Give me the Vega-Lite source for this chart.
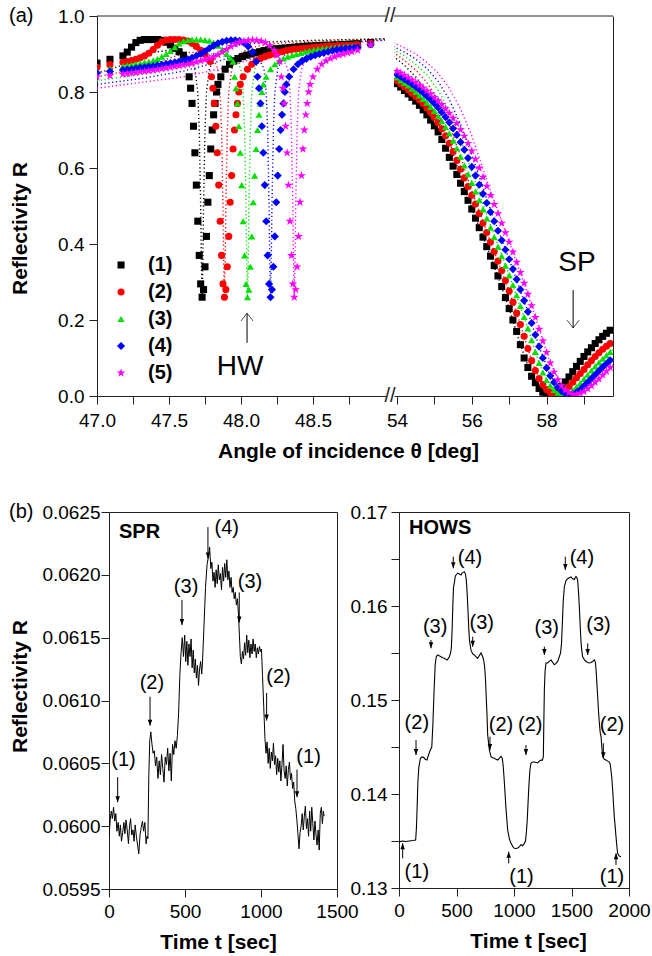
{
"$schema":"https://vega.github.io/schema/vega-lite/v6.json",
"padding":{"left":8,"top":6,"right":4,"bottom":4},
"config":{"font":"Liberation Sans","view":{"stroke":null},
"axis":{"domainColor":"#222","tickColor":"#222","labelColor":"#000","titleColor":"#000","labelFontSize":19,"titleFontSize":21,"titleFontWeight":"bold","grid":false,"tickSize":8,"labelFlush":false,"labelOverlap":false}},
"datasets":{
"lg":[{"s":1,"k":"(1)"},{"s":2,"k":"(2)"},{"s":3,"k":"(3)"},{"s":4,"k":"(4)"},{"s":5,"k":"(5)"}],
"aL":[
{"s":1,"t":47.0,"r":0.876},{"s":1,"t":47.09,"r":0.886},{"s":1,"t":47.18,"r":0.895},{"s":1,"t":47.21,"r":0.905},{"s":1,"t":47.24,"r":0.918},{"s":1,"t":47.27,"r":0.93},{"s":1,"t":47.3,"r":0.936},{"s":1,"t":47.33,"r":0.938},{"s":1,"t":47.36,"r":0.938},{"s":1,"t":47.39,"r":0.938},{"s":1,"t":47.42,"r":0.938},{"s":1,"t":47.45,"r":0.936},{"s":1,"t":47.48,"r":0.931},{"s":1,"t":47.51,"r":0.924},{"s":1,"t":47.54,"r":0.915},{"s":1,"t":47.57,"r":0.906},{"s":1,"t":47.6,"r":0.897},{"s":1,"t":47.63,"r":0.88},{"s":1,"t":47.64,"r":0.84},{"s":1,"t":47.65,"r":0.81},{"s":1,"t":47.66,"r":0.77},{"s":1,"t":47.67,"r":0.71},{"s":1,"t":47.68,"r":0.64},{"s":1,"t":47.69,"r":0.555},{"s":1,"t":47.7,"r":0.46},{"s":1,"t":47.71,"r":0.37},{"s":1,"t":47.72,"r":0.295},{"s":1,"t":47.73,"r":0.26},{"s":1,"t":47.74,"r":0.28},{"s":1,"t":47.75,"r":0.34},{"s":1,"t":47.76,"r":0.42},{"s":1,"t":47.77,"r":0.51},{"s":1,"t":47.78,"r":0.58},{"s":1,"t":47.79,"r":0.65},{"s":1,"t":47.8,"r":0.7},{"s":1,"t":47.81,"r":0.74},{"s":1,"t":47.82,"r":0.77},{"s":1,"t":47.83,"r":0.8},{"s":1,"t":47.84,"r":0.82},{"s":1,"t":47.86,"r":0.84},{"s":1,"t":47.89,"r":0.86},{"s":1,"t":47.92,"r":0.873},{"s":1,"t":47.95,"r":0.882},{"s":1,"t":47.98,"r":0.888},{"s":1,"t":48.01,"r":0.893},{"s":1,"t":48.04,"r":0.897},{"s":1,"t":48.07,"r":0.9},{"s":1,"t":48.1,"r":0.903},{"s":1,"t":48.13,"r":0.906},{"s":1,"t":48.16,"r":0.909},{"s":1,"t":48.19,"r":0.911},{"s":1,"t":48.22,"r":0.913},{"s":1,"t":48.25,"r":0.914},{"s":1,"t":48.28,"r":0.915},{"s":1,"t":48.31,"r":0.916},{"s":1,"t":48.34,"r":0.917},{"s":1,"t":48.37,"r":0.918},{"s":1,"t":48.4,"r":0.919},{"s":1,"t":48.43,"r":0.92},{"s":1,"t":48.46,"r":0.921},{"s":1,"t":48.49,"r":0.921},{"s":1,"t":48.52,"r":0.922},{"s":1,"t":48.55,"r":0.922},{"s":1,"t":48.58,"r":0.923},{"s":1,"t":48.61,"r":0.923},{"s":1,"t":48.64,"r":0.924},{"s":1,"t":48.67,"r":0.924},{"s":1,"t":48.7,"r":0.925},{"s":1,"t":48.73,"r":0.925},{"s":1,"t":48.76,"r":0.926},{"s":1,"t":48.79,"r":0.926},{"s":1,"t":48.81,"r":0.927},{"s":1,"t":48.9,"r":0.93},
{"s":2,"t":47.0,"r":0.865},{"s":2,"t":47.09,"r":0.872},{"s":2,"t":47.18,"r":0.878},{"s":2,"t":47.21,"r":0.88},{"s":2,"t":47.24,"r":0.883},{"s":2,"t":47.27,"r":0.886},{"s":2,"t":47.3,"r":0.89},{"s":2,"t":47.33,"r":0.895},{"s":2,"t":47.36,"r":0.902},{"s":2,"t":47.39,"r":0.912},{"s":2,"t":47.42,"r":0.923},{"s":2,"t":47.45,"r":0.932},{"s":2,"t":47.48,"r":0.937},{"s":2,"t":47.51,"r":0.938},{"s":2,"t":47.54,"r":0.938},{"s":2,"t":47.57,"r":0.938},{"s":2,"t":47.6,"r":0.937},{"s":2,"t":47.63,"r":0.934},{"s":2,"t":47.66,"r":0.928},{"s":2,"t":47.69,"r":0.92},{"s":2,"t":47.72,"r":0.91},{"s":2,"t":47.75,"r":0.899},{"s":2,"t":47.785,"r":0.88},{"s":2,"t":47.795,"r":0.84},{"s":2,"t":47.805,"r":0.81},{"s":2,"t":47.815,"r":0.77},{"s":2,"t":47.825,"r":0.71},{"s":2,"t":47.835,"r":0.64},{"s":2,"t":47.845,"r":0.555},{"s":2,"t":47.855,"r":0.46},{"s":2,"t":47.865,"r":0.37},{"s":2,"t":47.875,"r":0.295},{"s":2,"t":47.885,"r":0.26},{"s":2,"t":47.895,"r":0.28},{"s":2,"t":47.905,"r":0.34},{"s":2,"t":47.915,"r":0.42},{"s":2,"t":47.925,"r":0.51},{"s":2,"t":47.935,"r":0.58},{"s":2,"t":47.945,"r":0.65},{"s":2,"t":47.955,"r":0.7},{"s":2,"t":47.965,"r":0.74},{"s":2,"t":47.975,"r":0.77},{"s":2,"t":47.985,"r":0.8},{"s":2,"t":47.995,"r":0.82},{"s":2,"t":48.015,"r":0.84},{"s":2,"t":48.045,"r":0.86},{"s":2,"t":48.075,"r":0.873},{"s":2,"t":48.105,"r":0.882},{"s":2,"t":48.135,"r":0.888},{"s":2,"t":48.165,"r":0.893},{"s":2,"t":48.195,"r":0.897},{"s":2,"t":48.225,"r":0.9},{"s":2,"t":48.255,"r":0.903},{"s":2,"t":48.285,"r":0.906},{"s":2,"t":48.315,"r":0.909},{"s":2,"t":48.345,"r":0.911},{"s":2,"t":48.375,"r":0.913},{"s":2,"t":48.405,"r":0.914},{"s":2,"t":48.435,"r":0.915},{"s":2,"t":48.465,"r":0.916},{"s":2,"t":48.495,"r":0.917},{"s":2,"t":48.525,"r":0.918},{"s":2,"t":48.555,"r":0.919},{"s":2,"t":48.585,"r":0.92},{"s":2,"t":48.615,"r":0.921},{"s":2,"t":48.645,"r":0.921},{"s":2,"t":48.675,"r":0.922},{"s":2,"t":48.705,"r":0.922},{"s":2,"t":48.735,"r":0.923},{"s":2,"t":48.765,"r":0.923},{"s":2,"t":48.795,"r":0.924},{"s":2,"t":48.81,"r":0.924},{"s":2,"t":48.9,"r":0.928},
{"s":3,"t":47.0,"r":0.855},{"s":3,"t":47.09,"r":0.862},{"s":3,"t":47.18,"r":0.868},{"s":3,"t":47.21,"r":0.87},{"s":3,"t":47.24,"r":0.872},{"s":3,"t":47.27,"r":0.874},{"s":3,"t":47.3,"r":0.876},{"s":3,"t":47.33,"r":0.878},{"s":3,"t":47.36,"r":0.88},{"s":3,"t":47.39,"r":0.883},{"s":3,"t":47.42,"r":0.887},{"s":3,"t":47.45,"r":0.893},{"s":3,"t":47.48,"r":0.9},{"s":3,"t":47.51,"r":0.908},{"s":3,"t":47.54,"r":0.918},{"s":3,"t":47.57,"r":0.928},{"s":3,"t":47.6,"r":0.934},{"s":3,"t":47.63,"r":0.937},{"s":3,"t":47.66,"r":0.938},{"s":3,"t":47.69,"r":0.938},{"s":3,"t":47.72,"r":0.938},{"s":3,"t":47.75,"r":0.937},{"s":3,"t":47.78,"r":0.935},{"s":3,"t":47.81,"r":0.93},{"s":3,"t":47.84,"r":0.922},{"s":3,"t":47.87,"r":0.912},{"s":3,"t":47.9,"r":0.9},{"s":3,"t":47.925,"r":0.89},{"s":3,"t":47.945,"r":0.88},{"s":3,"t":47.955,"r":0.84},{"s":3,"t":47.965,"r":0.81},{"s":3,"t":47.975,"r":0.77},{"s":3,"t":47.985,"r":0.71},{"s":3,"t":47.995,"r":0.64},{"s":3,"t":48.005,"r":0.555},{"s":3,"t":48.015,"r":0.46},{"s":3,"t":48.025,"r":0.37},{"s":3,"t":48.035,"r":0.295},{"s":3,"t":48.045,"r":0.26},{"s":3,"t":48.055,"r":0.28},{"s":3,"t":48.065,"r":0.34},{"s":3,"t":48.075,"r":0.42},{"s":3,"t":48.085,"r":0.51},{"s":3,"t":48.095,"r":0.58},{"s":3,"t":48.105,"r":0.65},{"s":3,"t":48.115,"r":0.7},{"s":3,"t":48.125,"r":0.74},{"s":3,"t":48.135,"r":0.77},{"s":3,"t":48.145,"r":0.8},{"s":3,"t":48.155,"r":0.82},{"s":3,"t":48.175,"r":0.84},{"s":3,"t":48.205,"r":0.86},{"s":3,"t":48.235,"r":0.873},{"s":3,"t":48.265,"r":0.882},{"s":3,"t":48.295,"r":0.888},{"s":3,"t":48.325,"r":0.893},{"s":3,"t":48.355,"r":0.897},{"s":3,"t":48.385,"r":0.9},{"s":3,"t":48.415,"r":0.903},{"s":3,"t":48.445,"r":0.906},{"s":3,"t":48.475,"r":0.909},{"s":3,"t":48.505,"r":0.911},{"s":3,"t":48.535,"r":0.913},{"s":3,"t":48.565,"r":0.914},{"s":3,"t":48.595,"r":0.915},{"s":3,"t":48.625,"r":0.916},{"s":3,"t":48.655,"r":0.917},{"s":3,"t":48.685,"r":0.918},{"s":3,"t":48.715,"r":0.919},{"s":3,"t":48.745,"r":0.92},{"s":3,"t":48.775,"r":0.92},{"s":3,"t":48.81,"r":0.921},{"s":3,"t":48.9,"r":0.926},
{"s":4,"t":47.0,"r":0.85},{"s":4,"t":47.09,"r":0.854},{"s":4,"t":47.18,"r":0.858},{"s":4,"t":47.21,"r":0.859},{"s":4,"t":47.24,"r":0.86},{"s":4,"t":47.27,"r":0.862},{"s":4,"t":47.3,"r":0.864},{"s":4,"t":47.33,"r":0.865},{"s":4,"t":47.36,"r":0.867},{"s":4,"t":47.39,"r":0.868},{"s":4,"t":47.42,"r":0.87},{"s":4,"t":47.45,"r":0.872},{"s":4,"t":47.48,"r":0.874},{"s":4,"t":47.51,"r":0.876},{"s":4,"t":47.54,"r":0.878},{"s":4,"t":47.57,"r":0.88},{"s":4,"t":47.6,"r":0.883},{"s":4,"t":47.63,"r":0.886},{"s":4,"t":47.66,"r":0.89},{"s":4,"t":47.69,"r":0.895},{"s":4,"t":47.72,"r":0.9},{"s":4,"t":47.75,"r":0.907},{"s":4,"t":47.78,"r":0.915},{"s":4,"t":47.81,"r":0.922},{"s":4,"t":47.84,"r":0.928},{"s":4,"t":47.87,"r":0.932},{"s":4,"t":47.9,"r":0.935},{"s":4,"t":47.93,"r":0.936},{"s":4,"t":47.96,"r":0.936},{"s":4,"t":47.99,"r":0.935},{"s":4,"t":48.02,"r":0.93},{"s":4,"t":48.05,"r":0.92},{"s":4,"t":48.08,"r":0.905},{"s":4,"t":48.105,"r":0.88},{"s":4,"t":48.115,"r":0.84},{"s":4,"t":48.125,"r":0.81},{"s":4,"t":48.135,"r":0.77},{"s":4,"t":48.145,"r":0.71},{"s":4,"t":48.155,"r":0.64},{"s":4,"t":48.165,"r":0.555},{"s":4,"t":48.175,"r":0.46},{"s":4,"t":48.185,"r":0.37},{"s":4,"t":48.195,"r":0.295},{"s":4,"t":48.205,"r":0.26},{"s":4,"t":48.215,"r":0.28},{"s":4,"t":48.225,"r":0.34},{"s":4,"t":48.235,"r":0.42},{"s":4,"t":48.245,"r":0.51},{"s":4,"t":48.255,"r":0.58},{"s":4,"t":48.265,"r":0.65},{"s":4,"t":48.275,"r":0.7},{"s":4,"t":48.285,"r":0.74},{"s":4,"t":48.295,"r":0.77},{"s":4,"t":48.305,"r":0.8},{"s":4,"t":48.315,"r":0.82},{"s":4,"t":48.335,"r":0.84},{"s":4,"t":48.365,"r":0.86},{"s":4,"t":48.395,"r":0.873},{"s":4,"t":48.425,"r":0.882},{"s":4,"t":48.455,"r":0.888},{"s":4,"t":48.485,"r":0.893},{"s":4,"t":48.515,"r":0.897},{"s":4,"t":48.545,"r":0.9},{"s":4,"t":48.575,"r":0.903},{"s":4,"t":48.605,"r":0.906},{"s":4,"t":48.635,"r":0.909},{"s":4,"t":48.665,"r":0.911},{"s":4,"t":48.695,"r":0.913},{"s":4,"t":48.725,"r":0.914},{"s":4,"t":48.755,"r":0.915},{"s":4,"t":48.785,"r":0.916},{"s":4,"t":48.81,"r":0.917},{"s":4,"t":48.9,"r":0.925},
{"s":5,"t":47.0,"r":0.84},{"s":5,"t":47.09,"r":0.843},{"s":5,"t":47.18,"r":0.847},{"s":5,"t":47.21,"r":0.848},{"s":5,"t":47.24,"r":0.85},{"s":5,"t":47.27,"r":0.851},{"s":5,"t":47.3,"r":0.853},{"s":5,"t":47.33,"r":0.854},{"s":5,"t":47.36,"r":0.856},{"s":5,"t":47.39,"r":0.857},{"s":5,"t":47.42,"r":0.859},{"s":5,"t":47.45,"r":0.861},{"s":5,"t":47.48,"r":0.863},{"s":5,"t":47.51,"r":0.865},{"s":5,"t":47.54,"r":0.867},{"s":5,"t":47.57,"r":0.869},{"s":5,"t":47.6,"r":0.871},{"s":5,"t":47.63,"r":0.873},{"s":5,"t":47.66,"r":0.876},{"s":5,"t":47.69,"r":0.879},{"s":5,"t":47.72,"r":0.882},{"s":5,"t":47.75,"r":0.885},{"s":5,"t":47.78,"r":0.889},{"s":5,"t":47.81,"r":0.893},{"s":5,"t":47.84,"r":0.898},{"s":5,"t":47.87,"r":0.905},{"s":5,"t":47.9,"r":0.912},{"s":5,"t":47.93,"r":0.92},{"s":5,"t":47.96,"r":0.926},{"s":5,"t":47.99,"r":0.931},{"s":5,"t":48.02,"r":0.934},{"s":5,"t":48.05,"r":0.936},{"s":5,"t":48.08,"r":0.937},{"s":5,"t":48.11,"r":0.936},{"s":5,"t":48.14,"r":0.934},{"s":5,"t":48.17,"r":0.93},{"s":5,"t":48.2,"r":0.922},{"s":5,"t":48.23,"r":0.91},{"s":5,"t":48.25,"r":0.897},{"s":5,"t":48.27,"r":0.88},{"s":5,"t":48.28,"r":0.84},{"s":5,"t":48.29,"r":0.81},{"s":5,"t":48.3,"r":0.77},{"s":5,"t":48.31,"r":0.71},{"s":5,"t":48.32,"r":0.64},{"s":5,"t":48.33,"r":0.555},{"s":5,"t":48.34,"r":0.46},{"s":5,"t":48.35,"r":0.37},{"s":5,"t":48.36,"r":0.295},{"s":5,"t":48.37,"r":0.26},{"s":5,"t":48.38,"r":0.28},{"s":5,"t":48.39,"r":0.34},{"s":5,"t":48.4,"r":0.42},{"s":5,"t":48.41,"r":0.51},{"s":5,"t":48.42,"r":0.58},{"s":5,"t":48.43,"r":0.65},{"s":5,"t":48.44,"r":0.7},{"s":5,"t":48.45,"r":0.74},{"s":5,"t":48.46,"r":0.77},{"s":5,"t":48.47,"r":0.8},{"s":5,"t":48.48,"r":0.82},{"s":5,"t":48.5,"r":0.84},{"s":5,"t":48.53,"r":0.86},{"s":5,"t":48.56,"r":0.873},{"s":5,"t":48.59,"r":0.882},{"s":5,"t":48.62,"r":0.888},{"s":5,"t":48.65,"r":0.893},{"s":5,"t":48.68,"r":0.897},{"s":5,"t":48.71,"r":0.9},{"s":5,"t":48.74,"r":0.903},{"s":5,"t":48.77,"r":0.906},{"s":5,"t":48.81,"r":0.91},{"s":5,"t":48.9,"r":0.924}
],
"fL":[
{"g":1,"t":47.0,"r":0.85},{"g":1,"t":47.1,"r":0.86},{"g":1,"t":47.2,"r":0.875},{"g":1,"t":47.3,"r":0.893},{"g":1,"t":47.4,"r":0.905},{"g":1,"t":47.5,"r":0.91},{"g":1,"t":47.58,"r":0.905},{"g":1,"t":47.64,"r":0.89},{"g":1,"t":47.68,"r":0.86},{"g":1,"t":47.7,"r":0.8},{"g":1,"t":47.71,"r":0.7},{"g":1,"t":47.72,"r":0.5},{"g":1,"t":47.725,"r":0.35},{"g":1,"t":47.73,"r":0.26},{"g":1,"t":47.735,"r":0.35},{"g":1,"t":47.74,"r":0.5},{"g":1,"t":47.75,"r":0.7},{"g":1,"t":47.76,"r":0.8},{"g":1,"t":47.78,"r":0.86},{"g":1,"t":47.82,"r":0.895},{"g":1,"t":47.9,"r":0.915},{"g":1,"t":48.0,"r":0.925},{"g":1,"t":48.2,"r":0.932},{"g":1,"t":48.5,"r":0.936},{"g":1,"t":49.0,"r":0.94},
{"g":2,"t":47.0,"r":0.84},{"g":2,"t":47.2,"r":0.855},{"g":2,"t":47.4,"r":0.875},{"g":2,"t":47.55,"r":0.895},{"g":2,"t":47.65,"r":0.905},{"g":2,"t":47.75,"r":0.9},{"g":2,"t":47.81,"r":0.885},{"g":2,"t":47.84,"r":0.86},{"g":2,"t":47.855,"r":0.8},{"g":2,"t":47.865,"r":0.7},{"g":2,"t":47.875,"r":0.5},{"g":2,"t":47.88,"r":0.35},{"g":2,"t":47.885,"r":0.26},{"g":2,"t":47.89,"r":0.35},{"g":2,"t":47.895,"r":0.5},{"g":2,"t":47.905,"r":0.7},{"g":2,"t":47.915,"r":0.8},{"g":2,"t":47.935,"r":0.86},{"g":2,"t":47.975,"r":0.895},{"g":2,"t":48.05,"r":0.915},{"g":2,"t":48.2,"r":0.927},{"g":2,"t":48.5,"r":0.934},{"g":2,"t":49.0,"r":0.94},
{"g":3,"t":47.0,"r":0.83},{"g":3,"t":47.2,"r":0.84},{"g":3,"t":47.4,"r":0.855},{"g":3,"t":47.6,"r":0.88},{"g":3,"t":47.75,"r":0.9},{"g":3,"t":47.9,"r":0.9},{"g":3,"t":47.97,"r":0.885},{"g":3,"t":48.0,"r":0.86},{"g":3,"t":48.015,"r":0.8},{"g":3,"t":48.025,"r":0.7},{"g":3,"t":48.035,"r":0.5},{"g":3,"t":48.04,"r":0.35},{"g":3,"t":48.045,"r":0.26},{"g":3,"t":48.05,"r":0.35},{"g":3,"t":48.055,"r":0.5},{"g":3,"t":48.065,"r":0.7},{"g":3,"t":48.075,"r":0.8},{"g":3,"t":48.095,"r":0.86},{"g":3,"t":48.135,"r":0.895},{"g":3,"t":48.21,"r":0.915},{"g":3,"t":48.4,"r":0.928},{"g":3,"t":48.7,"r":0.935},{"g":3,"t":49.0,"r":0.938},
{"g":4,"t":47.0,"r":0.82},{"g":4,"t":47.3,"r":0.835},{"g":4,"t":47.6,"r":0.855},{"g":4,"t":47.8,"r":0.875},{"g":4,"t":47.95,"r":0.895},{"g":4,"t":48.06,"r":0.9},{"g":4,"t":48.13,"r":0.885},{"g":4,"t":48.16,"r":0.86},{"g":4,"t":48.175,"r":0.8},{"g":4,"t":48.185,"r":0.7},{"g":4,"t":48.195,"r":0.5},{"g":4,"t":48.2,"r":0.35},{"g":4,"t":48.205,"r":0.26},{"g":4,"t":48.21,"r":0.35},{"g":4,"t":48.215,"r":0.5},{"g":4,"t":48.225,"r":0.7},{"g":4,"t":48.235,"r":0.8},{"g":4,"t":48.255,"r":0.86},{"g":4,"t":48.295,"r":0.895},{"g":4,"t":48.37,"r":0.915},{"g":4,"t":48.55,"r":0.928},{"g":4,"t":49.0,"r":0.937},
{"g":5,"t":47.0,"r":0.81},{"g":5,"t":47.3,"r":0.825},{"g":5,"t":47.6,"r":0.84},{"g":5,"t":47.9,"r":0.865},{"g":5,"t":48.1,"r":0.89},{"g":5,"t":48.22,"r":0.895},{"g":5,"t":48.295,"r":0.885},{"g":5,"t":48.325,"r":0.86},{"g":5,"t":48.34,"r":0.8},{"g":5,"t":48.35,"r":0.7},{"g":5,"t":48.36,"r":0.5},{"g":5,"t":48.365,"r":0.35},{"g":5,"t":48.37,"r":0.26},{"g":5,"t":48.375,"r":0.35},{"g":5,"t":48.38,"r":0.5},{"g":5,"t":48.39,"r":0.7},{"g":5,"t":48.4,"r":0.8},{"g":5,"t":48.42,"r":0.86},{"g":5,"t":48.46,"r":0.895},{"g":5,"t":48.535,"r":0.915},{"g":5,"t":48.7,"r":0.928},{"g":5,"t":49.0,"r":0.936}
],
"aR":[
{"s":1,"t":54.0,"r":0.822},{"s":1,"t":54.1,"r":0.813},{"s":1,"t":54.2,"r":0.804},{"s":1,"t":54.3,"r":0.795},{"s":1,"t":54.4,"r":0.786},{"s":1,"t":54.5,"r":0.776},{"s":1,"t":54.6,"r":0.765},{"s":1,"t":54.7,"r":0.753},{"s":1,"t":54.8,"r":0.74},{"s":1,"t":54.9,"r":0.726},{"s":1,"t":55.0,"r":0.711},{"s":1,"t":55.1,"r":0.695},{"s":1,"t":55.2,"r":0.675},{"s":1,"t":55.3,"r":0.652},{"s":1,"t":55.4,"r":0.628},{"s":1,"t":55.5,"r":0.605},{"s":1,"t":55.6,"r":0.583},{"s":1,"t":55.7,"r":0.56},{"s":1,"t":55.8,"r":0.538},{"s":1,"t":55.9,"r":0.515},{"s":1,"t":56.0,"r":0.492},{"s":1,"t":56.1,"r":0.468},{"s":1,"t":56.2,"r":0.443},{"s":1,"t":56.3,"r":0.418},{"s":1,"t":56.4,"r":0.393},{"s":1,"t":56.5,"r":0.368},{"s":1,"t":56.6,"r":0.343},{"s":1,"t":56.7,"r":0.316},{"s":1,"t":56.8,"r":0.288},{"s":1,"t":56.9,"r":0.259},{"s":1,"t":57.0,"r":0.23},{"s":1,"t":57.1,"r":0.2},{"s":1,"t":57.2,"r":0.17},{"s":1,"t":57.3,"r":0.135},{"s":1,"t":57.4,"r":0.1},{"s":1,"t":57.5,"r":0.075},{"s":1,"t":57.6,"r":0.052},{"s":1,"t":57.7,"r":0.035},{"s":1,"t":57.8,"r":0.02},{"s":1,"t":57.9,"r":0.01},{"s":1,"t":58.0,"r":0.005},{"s":1,"t":58.1,"r":0.004},{"s":1,"t":58.2,"r":0.007},{"s":1,"t":58.3,"r":0.014},{"s":1,"t":58.4,"r":0.025},{"s":1,"t":58.5,"r":0.037},{"s":1,"t":58.6,"r":0.05},{"s":1,"t":58.7,"r":0.064},{"s":1,"t":58.8,"r":0.078},{"s":1,"t":58.9,"r":0.091},{"s":1,"t":59.0,"r":0.104},{"s":1,"t":59.1,"r":0.116},{"s":1,"t":59.2,"r":0.127},{"s":1,"t":59.3,"r":0.138},{"s":1,"t":59.4,"r":0.148},{"s":1,"t":59.5,"r":0.157},{"s":1,"t":59.6,"r":0.165},{"s":1,"t":59.7,"r":0.173},
{"s":2,"t":54.0,"r":0.83},{"s":2,"t":54.1,"r":0.822},{"s":2,"t":54.2,"r":0.814},{"s":2,"t":54.3,"r":0.806},{"s":2,"t":54.4,"r":0.797},{"s":2,"t":54.5,"r":0.788},{"s":2,"t":54.6,"r":0.779},{"s":2,"t":54.7,"r":0.769},{"s":2,"t":54.8,"r":0.758},{"s":2,"t":54.9,"r":0.746},{"s":2,"t":55.0,"r":0.733},{"s":2,"t":55.1,"r":0.719},{"s":2,"t":55.2,"r":0.703},{"s":2,"t":55.3,"r":0.685},{"s":2,"t":55.4,"r":0.665},{"s":2,"t":55.5,"r":0.643},{"s":2,"t":55.6,"r":0.62},{"s":2,"t":55.7,"r":0.597},{"s":2,"t":55.8,"r":0.574},{"s":2,"t":55.9,"r":0.551},{"s":2,"t":56.0,"r":0.528},{"s":2,"t":56.1,"r":0.505},{"s":2,"t":56.2,"r":0.48},{"s":2,"t":56.3,"r":0.455},{"s":2,"t":56.4,"r":0.43},{"s":2,"t":56.5,"r":0.405},{"s":2,"t":56.6,"r":0.38},{"s":2,"t":56.7,"r":0.355},{"s":2,"t":56.8,"r":0.33},{"s":2,"t":56.9,"r":0.304},{"s":2,"t":57.0,"r":0.276},{"s":2,"t":57.1,"r":0.247},{"s":2,"t":57.2,"r":0.218},{"s":2,"t":57.3,"r":0.188},{"s":2,"t":57.4,"r":0.157},{"s":2,"t":57.5,"r":0.125},{"s":2,"t":57.6,"r":0.093},{"s":2,"t":57.7,"r":0.067},{"s":2,"t":57.8,"r":0.046},{"s":2,"t":57.9,"r":0.03},{"s":2,"t":58.0,"r":0.017},{"s":2,"t":58.1,"r":0.009},{"s":2,"t":58.2,"r":0.005},{"s":2,"t":58.3,"r":0.004},{"s":2,"t":58.4,"r":0.008},{"s":2,"t":58.5,"r":0.015},{"s":2,"t":58.6,"r":0.025},{"s":2,"t":58.7,"r":0.036},{"s":2,"t":58.8,"r":0.048},{"s":2,"t":58.9,"r":0.059},{"s":2,"t":59.0,"r":0.07},{"s":2,"t":59.1,"r":0.082},{"s":2,"t":59.2,"r":0.093},{"s":2,"t":59.3,"r":0.104},{"s":2,"t":59.4,"r":0.114},{"s":2,"t":59.5,"r":0.123},{"s":2,"t":59.6,"r":0.131},{"s":2,"t":59.7,"r":0.138},
{"s":3,"t":54.0,"r":0.838},{"s":3,"t":54.1,"r":0.831},{"s":3,"t":54.2,"r":0.824},{"s":3,"t":54.3,"r":0.817},{"s":3,"t":54.4,"r":0.809},{"s":3,"t":54.5,"r":0.8},{"s":3,"t":54.6,"r":0.791},{"s":3,"t":54.7,"r":0.782},{"s":3,"t":54.8,"r":0.772},{"s":3,"t":54.9,"r":0.761},{"s":3,"t":55.0,"r":0.75},{"s":3,"t":55.1,"r":0.737},{"s":3,"t":55.2,"r":0.723},{"s":3,"t":55.3,"r":0.708},{"s":3,"t":55.4,"r":0.691},{"s":3,"t":55.5,"r":0.672},{"s":3,"t":55.6,"r":0.652},{"s":3,"t":55.7,"r":0.63},{"s":3,"t":55.8,"r":0.607},{"s":3,"t":55.9,"r":0.584},{"s":3,"t":56.0,"r":0.561},{"s":3,"t":56.1,"r":0.538},{"s":3,"t":56.2,"r":0.515},{"s":3,"t":56.3,"r":0.491},{"s":3,"t":56.4,"r":0.467},{"s":3,"t":56.5,"r":0.443},{"s":3,"t":56.6,"r":0.418},{"s":3,"t":56.7,"r":0.393},{"s":3,"t":56.8,"r":0.368},{"s":3,"t":56.9,"r":0.343},{"s":3,"t":57.0,"r":0.318},{"s":3,"t":57.1,"r":0.292},{"s":3,"t":57.2,"r":0.265},{"s":3,"t":57.3,"r":0.237},{"s":3,"t":57.4,"r":0.208},{"s":3,"t":57.5,"r":0.178},{"s":3,"t":57.6,"r":0.147},{"s":3,"t":57.7,"r":0.116},{"s":3,"t":57.8,"r":0.087},{"s":3,"t":57.9,"r":0.062},{"s":3,"t":58.0,"r":0.042},{"s":3,"t":58.1,"r":0.027},{"s":3,"t":58.2,"r":0.016},{"s":3,"t":58.3,"r":0.009},{"s":3,"t":58.4,"r":0.005},{"s":3,"t":58.5,"r":0.004},{"s":3,"t":58.6,"r":0.008},{"s":3,"t":58.7,"r":0.015},{"s":3,"t":58.8,"r":0.024},{"s":3,"t":58.9,"r":0.034},{"s":3,"t":59.0,"r":0.045},{"s":3,"t":59.1,"r":0.056},{"s":3,"t":59.2,"r":0.067},{"s":3,"t":59.3,"r":0.078},{"s":3,"t":59.4,"r":0.088},{"s":3,"t":59.5,"r":0.098},{"s":3,"t":59.6,"r":0.107},{"s":3,"t":59.7,"r":0.116},
{"s":4,"t":54.0,"r":0.846},{"s":4,"t":54.1,"r":0.84},{"s":4,"t":54.2,"r":0.834},{"s":4,"t":54.3,"r":0.828},{"s":4,"t":54.4,"r":0.821},{"s":4,"t":54.5,"r":0.814},{"s":4,"t":54.6,"r":0.806},{"s":4,"t":54.7,"r":0.798},{"s":4,"t":54.8,"r":0.789},{"s":4,"t":54.9,"r":0.78},{"s":4,"t":55.0,"r":0.77},{"s":4,"t":55.1,"r":0.759},{"s":4,"t":55.2,"r":0.747},{"s":4,"t":55.3,"r":0.734},{"s":4,"t":55.4,"r":0.72},{"s":4,"t":55.5,"r":0.704},{"s":4,"t":55.6,"r":0.687},{"s":4,"t":55.7,"r":0.668},{"s":4,"t":55.8,"r":0.648},{"s":4,"t":55.9,"r":0.626},{"s":4,"t":56.0,"r":0.603},{"s":4,"t":56.1,"r":0.58},{"s":4,"t":56.2,"r":0.556},{"s":4,"t":56.3,"r":0.532},{"s":4,"t":56.4,"r":0.508},{"s":4,"t":56.5,"r":0.484},{"s":4,"t":56.6,"r":0.46},{"s":4,"t":56.7,"r":0.435},{"s":4,"t":56.8,"r":0.41},{"s":4,"t":56.9,"r":0.385},{"s":4,"t":57.0,"r":0.36},{"s":4,"t":57.1,"r":0.334},{"s":4,"t":57.2,"r":0.307},{"s":4,"t":57.3,"r":0.28},{"s":4,"t":57.4,"r":0.251},{"s":4,"t":57.5,"r":0.222},{"s":4,"t":57.6,"r":0.192},{"s":4,"t":57.7,"r":0.161},{"s":4,"t":57.8,"r":0.13},{"s":4,"t":57.9,"r":0.1},{"s":4,"t":58.0,"r":0.074},{"s":4,"t":58.1,"r":0.053},{"s":4,"t":58.2,"r":0.036},{"s":4,"t":58.3,"r":0.023},{"s":4,"t":58.4,"r":0.013},{"s":4,"t":58.5,"r":0.007},{"s":4,"t":58.6,"r":0.004},{"s":4,"t":58.7,"r":0.005},{"s":4,"t":58.8,"r":0.01},{"s":4,"t":58.9,"r":0.017},{"s":4,"t":59.0,"r":0.026},{"s":4,"t":59.1,"r":0.036},{"s":4,"t":59.2,"r":0.046},{"s":4,"t":59.3,"r":0.056},{"s":4,"t":59.4,"r":0.066},{"s":4,"t":59.5,"r":0.076},{"s":4,"t":59.6,"r":0.085},{"s":4,"t":59.7,"r":0.094},
{"s":5,"t":54.0,"r":0.855},{"s":5,"t":54.1,"r":0.85},{"s":5,"t":54.2,"r":0.844},{"s":5,"t":54.3,"r":0.838},{"s":5,"t":54.4,"r":0.832},{"s":5,"t":54.5,"r":0.825},{"s":5,"t":54.6,"r":0.818},{"s":5,"t":54.7,"r":0.811},{"s":5,"t":54.8,"r":0.803},{"s":5,"t":54.9,"r":0.795},{"s":5,"t":55.0,"r":0.786},{"s":5,"t":55.1,"r":0.777},{"s":5,"t":55.2,"r":0.767},{"s":5,"t":55.3,"r":0.756},{"s":5,"t":55.4,"r":0.744},{"s":5,"t":55.5,"r":0.731},{"s":5,"t":55.6,"r":0.717},{"s":5,"t":55.7,"r":0.701},{"s":5,"t":55.8,"r":0.684},{"s":5,"t":55.9,"r":0.665},{"s":5,"t":56.0,"r":0.645},{"s":5,"t":56.1,"r":0.623},{"s":5,"t":56.2,"r":0.6},{"s":5,"t":56.3,"r":0.576},{"s":5,"t":56.4,"r":0.552},{"s":5,"t":56.5,"r":0.528},{"s":5,"t":56.6,"r":0.504},{"s":5,"t":56.7,"r":0.48},{"s":5,"t":56.8,"r":0.455},{"s":5,"t":56.9,"r":0.43},{"s":5,"t":57.0,"r":0.405},{"s":5,"t":57.1,"r":0.379},{"s":5,"t":57.2,"r":0.352},{"s":5,"t":57.3,"r":0.325},{"s":5,"t":57.4,"r":0.297},{"s":5,"t":57.5,"r":0.268},{"s":5,"t":57.6,"r":0.238},{"s":5,"t":57.7,"r":0.207},{"s":5,"t":57.8,"r":0.176},{"s":5,"t":57.9,"r":0.145},{"s":5,"t":58.0,"r":0.115},{"s":5,"t":58.1,"r":0.087},{"s":5,"t":58.2,"r":0.063},{"s":5,"t":58.3,"r":0.043},{"s":5,"t":58.4,"r":0.027},{"s":5,"t":58.5,"r":0.016},{"s":5,"t":58.6,"r":0.009},{"s":5,"t":58.7,"r":0.005},{"s":5,"t":58.8,"r":0.004},{"s":5,"t":58.9,"r":0.007},{"s":5,"t":59.0,"r":0.012},{"s":5,"t":59.1,"r":0.019},{"s":5,"t":59.2,"r":0.027},{"s":5,"t":59.3,"r":0.036},{"s":5,"t":59.4,"r":0.045},{"s":5,"t":59.5,"r":0.055},{"s":5,"t":59.6,"r":0.065},{"s":5,"t":59.7,"r":0.075}
],
"fR":[
{"g":1,"t":53.9,"r":0.895},{"g":1,"t":54.2,"r":0.87},{"g":1,"t":54.5,"r":0.84},{"g":1,"t":54.8,"r":0.8},{"g":1,"t":55.1,"r":0.75},{"g":1,"t":55.4,"r":0.67},{"g":1,"t":55.7,"r":0.575},{"g":1,"t":56.0,"r":0.495},{"g":1,"t":56.5,"r":0.368},{"g":1,"t":57.0,"r":0.23},{"g":1,"t":57.3,"r":0.135},{"g":1,"t":57.6,"r":0.052},{"g":1,"t":57.8,"r":0.02},{"g":1,"t":58.0,"r":0.005},{"g":1,"t":58.2,"r":0.007},{"g":1,"t":58.5,"r":0.037},{"g":1,"t":59.0,"r":0.104},{"g":1,"t":59.5,"r":0.157},{"g":1,"t":59.8,"r":0.18},
{"g":2,"t":53.9,"r":0.905},{"g":2,"t":54.2,"r":0.883},{"g":2,"t":54.5,"r":0.858},{"g":2,"t":54.8,"r":0.825},{"g":2,"t":55.1,"r":0.78},{"g":2,"t":55.4,"r":0.715},{"g":2,"t":55.7,"r":0.63},{"g":2,"t":56.0,"r":0.54},{"g":2,"t":56.5,"r":0.405},{"g":2,"t":57.0,"r":0.276},{"g":2,"t":57.3,"r":0.188},{"g":2,"t":57.6,"r":0.093},{"g":2,"t":57.8,"r":0.046},{"g":2,"t":58.0,"r":0.017},{"g":2,"t":58.3,"r":0.004},{"g":2,"t":58.5,"r":0.015},{"g":2,"t":59.0,"r":0.07},{"g":2,"t":59.5,"r":0.123},{"g":2,"t":59.8,"r":0.145},
{"g":3,"t":53.9,"r":0.912},{"g":3,"t":54.2,"r":0.895},{"g":3,"t":54.5,"r":0.873},{"g":3,"t":54.8,"r":0.845},{"g":3,"t":55.1,"r":0.805},{"g":3,"t":55.4,"r":0.75},{"g":3,"t":55.7,"r":0.675},{"g":3,"t":56.0,"r":0.59},{"g":3,"t":56.5,"r":0.45},{"g":3,"t":57.0,"r":0.318},{"g":3,"t":57.5,"r":0.178},{"g":3,"t":57.8,"r":0.087},{"g":3,"t":58.0,"r":0.042},{"g":3,"t":58.3,"r":0.009},{"g":3,"t":58.5,"r":0.004},{"g":3,"t":58.8,"r":0.024},{"g":3,"t":59.2,"r":0.067},{"g":3,"t":59.8,"r":0.125},
{"g":4,"t":53.9,"r":0.92},{"g":4,"t":54.2,"r":0.905},{"g":4,"t":54.5,"r":0.887},{"g":4,"t":54.8,"r":0.862},{"g":4,"t":55.1,"r":0.828},{"g":4,"t":55.4,"r":0.78},{"g":4,"t":55.7,"r":0.715},{"g":4,"t":56.0,"r":0.635},{"g":4,"t":56.5,"r":0.49},{"g":4,"t":57.0,"r":0.36},{"g":4,"t":57.5,"r":0.222},{"g":4,"t":57.8,"r":0.13},{"g":4,"t":58.1,"r":0.053},{"g":4,"t":58.4,"r":0.013},{"g":4,"t":58.6,"r":0.004},{"g":4,"t":59.0,"r":0.026},{"g":4,"t":59.5,"r":0.076},{"g":4,"t":59.8,"r":0.103},
{"g":5,"t":53.9,"r":0.93},{"g":5,"t":54.2,"r":0.916},{"g":5,"t":54.5,"r":0.9},{"g":5,"t":54.8,"r":0.878},{"g":5,"t":55.1,"r":0.85},{"g":5,"t":55.4,"r":0.81},{"g":5,"t":55.7,"r":0.755},{"g":5,"t":56.0,"r":0.685},{"g":5,"t":56.5,"r":0.54},{"g":5,"t":57.0,"r":0.405},{"g":5,"t":57.5,"r":0.268},{"g":5,"t":57.8,"r":0.176},{"g":5,"t":58.1,"r":0.087},{"g":5,"t":58.4,"r":0.027},{"g":5,"t":58.8,"r":0.004},{"g":5,"t":59.0,"r":0.012},{"g":5,"t":59.4,"r":0.045},{"g":5,"t":59.8,"r":0.085}
],
"spr":[
{"t":0,"r":0.05991},{"t":8,"r":0.06005},{"t":15,"r":0.06012},{"t":22,"r":0.06006},{"t":30,"r":0.06015},{"t":38,"r":0.06004},{"t":45,"r":0.0601},{"t":52,"r":0.05996},{"t":60,"r":0.06003},{"t":68,"r":0.05992},{"t":75,"r":0.06001},{"t":82,"r":0.05988},{"t":90,"r":0.05995},{"t":98,"r":0.06003},{"t":105,"r":0.05994},{"t":112,"r":0.06005},{"t":120,"r":0.05997},{"t":128,"r":0.05986},{"t":135,"r":0.06},{"t":142,"r":0.06006},{"t":150,"r":0.05993},{"t":158,"r":0.05997},{"t":165,"r":0.05988},{"t":172,"r":0.06001},{"t":180,"r":0.05992},{"t":188,"r":0.05985},{"t":196,"r":0.05978},{"t":204,"r":0.05993},{"t":212,"r":0.05999},{"t":220,"r":0.06004},{"t":228,"r":0.05996},{"t":236,"r":0.06003},{"t":244,"r":0.05986},{"t":250,"r":0.05992},{"t":256,"r":0.0599},{"t":262,"r":0.0604},{"t":268,"r":0.06068},{"t":275,"r":0.06075},{"t":282,"r":0.06066},{"t":290,"r":0.06058},{"t":298,"r":0.0606},{"t":306,"r":0.06048},{"t":314,"r":0.06055},{"t":322,"r":0.06038},{"t":330,"r":0.06052},{"t":338,"r":0.06041},{"t":346,"r":0.06057},{"t":354,"r":0.06046},{"t":362,"r":0.06035},{"t":370,"r":0.06055},{"t":378,"r":0.06049},{"t":386,"r":0.06062},{"t":394,"r":0.06044},{"t":402,"r":0.06058},{"t":410,"r":0.06036},{"t":418,"r":0.06065},{"t":426,"r":0.06057},{"t":434,"r":0.06068},{"t":442,"r":0.06062},{"t":450,"r":0.06072},{"t":458,"r":0.0609},{"t":466,"r":0.0612},{"t":474,"r":0.06138},{"t":482,"r":0.0615},{"t":490,"r":0.06135},{"t":498,"r":0.06152},{"t":505,"r":0.06131},{"t":512,"r":0.06147},{"t":519,"r":0.06128},{"t":526,"r":0.06145},{"t":533,"r":0.06135},{"t":540,"r":0.06149},{"t":547,"r":0.06126},{"t":554,"r":0.0614},{"t":561,"r":0.06122},{"t":568,"r":0.06133},{"t":575,"r":0.06118},{"t":582,"r":0.06128},{"t":589,"r":0.06112},{"t":596,"r":0.06125},{"t":603,"r":0.06131},{"t":610,"r":0.06121},{"t":615,"r":0.0613},{"t":625,"r":0.0616},{"t":635,"r":0.0619},{"t":645,"r":0.06208},{"t":655,"r":0.06215},{"t":662,"r":0.06222},{"t":670,"r":0.06205},{"t":677,"r":0.0621},{"t":684,"r":0.06195},{"t":691,"r":0.06202},{"t":698,"r":0.0619},{"t":705,"r":0.06204},{"t":712,"r":0.06193},{"t":719,"r":0.06208},{"t":726,"r":0.06196},{"t":733,"r":0.06201},{"t":740,"r":0.06188},{"t":747,"r":0.06206},{"t":754,"r":0.06195},{"t":761,"r":0.06209},{"t":768,"r":0.06198},{"t":775,"r":0.06212},{"t":782,"r":0.06196},{"t":789,"r":0.06203},{"t":796,"r":0.0619},{"t":803,"r":0.06198},{"t":810,"r":0.06186},{"t":817,"r":0.0619},{"t":824,"r":0.06181},{"t":831,"r":0.06186},{"t":838,"r":0.06176},{"t":845,"r":0.06181},{"t":852,"r":0.06168},{"t":858,"r":0.06152},{"t":864,"r":0.06135},{"t":871,"r":0.06129},{"t":878,"r":0.06139},{"t":885,"r":0.06133},{"t":892,"r":0.06146},{"t":899,"r":0.06136},{"t":906,"r":0.06152},{"t":913,"r":0.06138},{"t":920,"r":0.06148},{"t":927,"r":0.06134},{"t":934,"r":0.06145},{"t":941,"r":0.06137},{"t":948,"r":0.06149},{"t":955,"r":0.06139},{"t":962,"r":0.06145},{"t":969,"r":0.06134},{"t":976,"r":0.06142},{"t":983,"r":0.06137},{"t":990,"r":0.06143},{"t":997,"r":0.06139},{"t":1003,"r":0.06141},{"t":1010,"r":0.0612},{"t":1018,"r":0.06095},{"t":1026,"r":0.0607},{"t":1033,"r":0.06058},{"t":1040,"r":0.06067},{"t":1047,"r":0.0605},{"t":1054,"r":0.06062},{"t":1061,"r":0.06046},{"t":1068,"r":0.06059},{"t":1075,"r":0.06052},{"t":1082,"r":0.06066},{"t":1089,"r":0.06049},{"t":1096,"r":0.06056},{"t":1103,"r":0.06041},{"t":1110,"r":0.06054},{"t":1117,"r":0.06043},{"t":1124,"r":0.06052},{"t":1131,"r":0.06036},{"t":1138,"r":0.06049},{"t":1145,"r":0.06065},{"t":1152,"r":0.06044},{"t":1159,"r":0.06038},{"t":1166,"r":0.06048},{"t":1173,"r":0.06032},{"t":1180,"r":0.06045},{"t":1187,"r":0.06051},{"t":1194,"r":0.06037},{"t":1201,"r":0.06042},{"t":1208,"r":0.0603},{"t":1215,"r":0.06035},{"t":1222,"r":0.0602},{"t":1229,"r":0.06014},{"t":1236,"r":0.06005},{"t":1243,"r":0.05994},{"t":1250,"r":0.05982},{"t":1257,"r":0.05995},{"t":1264,"r":0.06},{"t":1271,"r":0.0601},{"t":1278,"r":0.05997},{"t":1285,"r":0.06008},{"t":1292,"r":0.06016},{"t":1299,"r":0.05998},{"t":1306,"r":0.06006},{"t":1313,"r":0.05992},{"t":1320,"r":0.06012},{"t":1327,"r":0.05996},{"t":1334,"r":0.06015},{"t":1341,"r":0.06002},{"t":1348,"r":0.05989},{"t":1355,"r":0.06004},{"t":1362,"r":0.05993},{"t":1369,"r":0.05985},{"t":1376,"r":0.05997},{"t":1383,"r":0.05981},{"t":1390,"r":0.0601},{"t":1397,"r":0.06015},{"t":1404,"r":0.06002},{"t":1410,"r":0.06012},{"t":1415,"r":0.06008}
],
"hows":[
{"t":0,"r":0.1349},{"t":30,"r":0.135},{"t":60,"r":0.13495},{"t":90,"r":0.135},{"t":120,"r":0.13505},{"t":145,"r":0.1351},{"t":152,"r":0.1365},{"t":158,"r":0.1387},{"t":164,"r":0.1412},{"t":172,"r":0.1428},{"t":186,"r":0.1438},{"t":200,"r":0.14395},{"t":214,"r":0.1439},{"t":228,"r":0.1437},{"t":243,"r":0.14362},{"t":258,"r":0.1442},{"t":272,"r":0.14468},{"t":285,"r":0.145},{"t":295,"r":0.1475},{"t":305,"r":0.151},{"t":315,"r":0.1538},{"t":324,"r":0.1546},{"t":336,"r":0.1548},{"t":350,"r":0.1547},{"t":365,"r":0.1546},{"t":380,"r":0.1545},{"t":394,"r":0.15443},{"t":405,"r":0.15435},{"t":417,"r":0.15426},{"t":428,"r":0.1544},{"t":438,"r":0.1546},{"t":448,"r":0.155},{"t":455,"r":0.1555},{"t":462,"r":0.1575},{"t":468,"r":0.16},{"t":474,"r":0.162},{"t":481,"r":0.16245},{"t":490,"r":0.1632},{"t":500,"r":0.16335},{"t":510,"r":0.1635},{"t":525,"r":0.1634},{"t":539,"r":0.1633},{"t":548,"r":0.1635},{"t":554,"r":0.16355},{"t":568,"r":0.16365},{"t":578,"r":0.1634},{"t":585,"r":0.1628},{"t":592,"r":0.1615},{"t":600,"r":0.1595},{"t":607,"r":0.1575},{"t":614,"r":0.1562},{"t":626,"r":0.1553},{"t":641,"r":0.1549},{"t":655,"r":0.15479},{"t":670,"r":0.1546},{"t":684,"r":0.15443},{"t":698,"r":0.1547},{"t":713,"r":0.155},{"t":728,"r":0.1546},{"t":737,"r":0.1542},{"t":745,"r":0.1535},{"t":752,"r":0.1522},{"t":758,"r":0.1505},{"t":765,"r":0.1485},{"t":771,"r":0.1463},{"t":778,"r":0.1455},{"t":786,"r":0.14468},{"t":800,"r":0.14397},{"t":815,"r":0.14385},{"t":829,"r":0.1438},{"t":844,"r":0.1437},{"t":858,"r":0.14362},{"t":872,"r":0.1438},{"t":887,"r":0.144},{"t":898,"r":0.1438},{"t":906,"r":0.143},{"t":913,"r":0.1418},{"t":920,"r":0.1405},{"t":930,"r":0.1385},{"t":945,"r":0.13617},{"t":960,"r":0.1352},{"t":974,"r":0.13475},{"t":990,"r":0.1344},{"t":1003,"r":0.13422},{"t":1018,"r":0.1342},{"t":1032,"r":0.13425},{"t":1047,"r":0.1344},{"t":1061,"r":0.1346},{"t":1075,"r":0.1345},{"t":1090,"r":0.13475},{"t":1100,"r":0.135},{"t":1108,"r":0.136},{"t":1115,"r":0.1372},{"t":1122,"r":0.139},{"t":1130,"r":0.141},{"t":1138,"r":0.1425},{"t":1148,"r":0.1433},{"t":1163,"r":0.1434},{"t":1177,"r":0.1434},{"t":1192,"r":0.14335},{"t":1206,"r":0.1433},{"t":1220,"r":0.1435},{"t":1235,"r":0.1436},{"t":1248,"r":0.1436},{"t":1255,"r":0.144},{"t":1260,"r":0.148},{"t":1264,"r":0.15106},{"t":1270,"r":0.153},{"t":1278,"r":0.15394},{"t":1293,"r":0.15394},{"t":1307,"r":0.1541},{"t":1322,"r":0.15426},{"t":1336,"r":0.154},{"t":1351,"r":0.15376},{"t":1365,"r":0.1539},{"t":1380,"r":0.1541},{"t":1394,"r":0.1546},{"t":1405,"r":0.155},{"t":1413,"r":0.156},{"t":1420,"r":0.158},{"t":1428,"r":0.1605},{"t":1438,"r":0.16205},{"t":1452,"r":0.1627},{"t":1467,"r":0.1629},{"t":1481,"r":0.163},{"t":1496,"r":0.1631},{"t":1510,"r":0.1629},{"t":1525,"r":0.16282},{"t":1532,"r":0.163},{"t":1539,"r":0.16314},{"t":1547,"r":0.163},{"t":1554,"r":0.1627},{"t":1561,"r":0.1615},{"t":1568,"r":0.15993},{"t":1576,"r":0.1578},{"t":1583,"r":0.1561},{"t":1590,"r":0.1552},{"t":1597,"r":0.1546},{"t":1612,"r":0.1543},{"t":1626,"r":0.1541},{"t":1640,"r":0.154},{"t":1655,"r":0.15394},{"t":1670,"r":0.154},{"t":1684,"r":0.1541},{"t":1699,"r":0.15426},{"t":1708,"r":0.154},{"t":1715,"r":0.153},{"t":1722,"r":0.1515},{"t":1727,"r":0.1505},{"t":1735,"r":0.1488},{"t":1742,"r":0.14755},{"t":1750,"r":0.1465},{"t":1757,"r":0.1461},{"t":1765,"r":0.1448},{"t":1771,"r":0.14397},{"t":1785,"r":0.1437},{"t":1800,"r":0.14362},{"t":1815,"r":0.1435},{"t":1829,"r":0.1434},{"t":1836,"r":0.1432},{"t":1843,"r":0.14255},{"t":1850,"r":0.1418},{"t":1858,"r":0.14043},{"t":1865,"r":0.139},{"t":1872,"r":0.13759},{"t":1880,"r":0.1365},{"t":1887,"r":0.13546},{"t":1894,"r":0.1345},{"t":1901,"r":0.13369},{"t":1915,"r":0.1334},{"t":1930,"r":0.13333}
],
"sprArr":[{"t":57,"a":0.06039,"b":0.06019,"d":"d"},{"t":270,"a":0.06103,"b":0.0608,"d":"d"},{"t":480,"a":0.0618,"b":0.0616,"d":"d"},{"t":651,"a":0.06238,"b":0.06213,"d":"d"},{"t":857,"a":0.06186,"b":0.06162,"d":"d"},{"t":1037,"a":0.06106,"b":0.06084,"d":"d"},{"t":1237,"a":0.06045,"b":0.06023,"d":"d"}],
"sprLab":[{"t":95,"r":0.06053,"l":"(1)"},{"t":282,"r":0.06114,"l":"(2)"},{"t":507,"r":0.0619,"l":"(3)"},{"t":775,"r":0.06237,"l":"(4)"},{"t":928,"r":0.06194,"l":"(3)"},{"t":1115,"r":0.06119,"l":"(2)"},{"t":1313,"r":0.06055,"l":"(1)"}],
"howsArr":[{"t":32,"a":0.13316,"b":0.13476,"d":"u"},{"t":148,"a":0.14574,"b":0.14415,"d":"d"},{"t":278,"a":0.15638,"b":0.1555,"d":"d"},{"t":472,"a":0.16525,"b":0.16401,"d":"d"},{"t":641,"a":0.15673,"b":0.15567,"d":"d"},{"t":791,"a":0.1461,"b":0.14468,"d":"d"},{"t":954,"a":0.13262,"b":0.13386,"d":"u"},{"t":1104,"a":0.14521,"b":0.14415,"d":"d"},{"t":1264,"a":0.15567,"b":0.15479,"d":"d"},{"t":1446,"a":0.16525,"b":0.16383,"d":"d"},{"t":1641,"a":0.15603,"b":0.15479,"d":"d"},{"t":1777,"a":0.1454,"b":0.1438,"d":"d"},{"t":1887,"a":0.13245,"b":0.13369,"d":"u"}],
"howsLab":[{"t":155,"r":0.13173,"l":"(1)"},{"t":155,"r":0.14752,"l":"(2)"},{"t":314,"r":0.1578,"l":"(3)"},{"t":617,"r":0.16507,"l":"(4)"},{"t":720,"r":0.15816,"l":"(3)"},{"t":887,"r":0.14734,"l":"(2)"},{"t":1065,"r":0.1312,"l":"(1)"},{"t":1141,"r":0.14734,"l":"(2)"},{"t":1285,"r":0.15762,"l":"(3)"},{"t":1590,"r":0.16507,"l":"(4)"},{"t":1735,"r":0.15798,"l":"(3)"},{"t":1852,"r":0.14734,"l":"(2)"},{"t":1852,"r":0.1312,"l":"(1)"}]
},
"columns":1,
"spacing":40,
"resolve":{"scale":{"color":"independent","shape":"independent","stroke":"independent"}},
"concat":[
{"hconcat":[
{"width":289,"height":380,"view":{"stroke":null},
"resolve":{"scale":{"y":"independent"},"axis":{"y":"independent"}},
"layer":[
{"layer":[
{"data":{"name":"fL"},"mark":{"type":"line","clip":true,"strokeDash":[1.2,2.6],"strokeWidth":1.4},
"encoding":{
"x":{"field":"t","type":"quantitative","scale":{"domain":[47,49.007],"nice":false,"zero":false},
"axis":{"values":[47,47.25,47.5,47.75,48,48.25,48.5,48.75],"labelExpr":"abs(datum.value*2-round(datum.value*2))<0.001 ? format(datum.value,'.1f') : ''","title":"Angle of incidence θ [deg]","titleX":251,"titleY":61,"titleBaseline":"alphabetic","titleAlign":"center","labelPadding":7,
"encoding":{"ticks":{"update":{"y2":{"signal":"abs(datum.value*2-round(datum.value*2))<0.001 ? 8 : 4"}}}}}},
"y":{"field":"r","type":"quantitative","scale":{"domain":[0,1],"nice":false,"zero":false},
"axis":{"values":[0,0.1,0.2,0.3,0.4,0.5,0.6,0.7,0.8,0.9,1.0],"labelExpr":"round(datum.value*10)%2==0 ? format(datum.value,'.1f') : ''","title":"Reflectivity R","titleX":-77,"titleY":212,"titleAngle":-90,"titleBaseline":"middle","titleAlign":"center","labelPadding":5,
"encoding":{"ticks":{"update":{"x2":{"signal":"round(datum.value*10)%2==0 ? -8 : -4"}}}}}},
"stroke":{"field":"g","type":"nominal","scale":{"domain":[1,2,3,4,5],"range":["#000000","#ff0000","#00e000","#0000ff","#ff00ff"]},"legend":null}}},
{"data":{"name":"aL"},"mark":{"type":"point","clip":true,"filled":true,"size":50,"opacity":1,"strokeWidth":0},
"encoding":{
"x":{"field":"t","type":"quantitative","scale":{"domain":[47,49.007]}},
"y":{"field":"r","type":"quantitative","scale":{"domain":[0,1]}},
"color":{"field":"s","type":"nominal","scale":{"domain":[1,2,3,4,5],"range":["#000000","#ff0000","#00e000","#0000ff","#ff00ff"]},"legend":null},
"shape":{"field":"s","type":"nominal","scale":{"domain":[1,2,3,4,5],"range":["square","circle","triangle-up","M0,-1.15L1.15,0L0,1.15L-1.15,0Z","M0,-1.3L0.292,-0.402L1.236,-0.402L0.472,0.153L0.764,1.052L0,0.497L-0.764,1.052L-0.472,0.153L-1.236,-0.402L-0.292,-0.402Z"]},"legend":null}}},
{"data":{"values":[{}]},"mark":{"type":"rule","color":"#222","strokeWidth":1},"encoding":{"y":{"datum":1,"type":"quantitative","scale":{"domain":[0,1]}}}},
{"data":{"values":[{}]},"mark":{"type":"rule","color":"#000","strokeWidth":1},"encoding":{"x":{"datum":48.042,"type":"quantitative","scale":{"domain":[47,49.007]}},"y":{"datum":0.14,"type":"quantitative","scale":{"domain":[0,1]}},"y2":{"datum":0.218}}},
{"data":{"values":[{}]},"mark":{"type":"point","filled":false,"color":"#000","strokeWidth":1,"size":144,"shape":"M-1,1.3L0,0L1,1.3"},"encoding":{"x":{"datum":48.042,"type":"quantitative","scale":{"domain":[47,49.007]}},"y":{"datum":0.218,"type":"quantitative","scale":{"domain":[0,1]}}}},
{"data":{"values":[{}]},"mark":{"type":"text","text":"HW","fontSize":28,"align":"center","baseline":"middle","color":"#000"},"encoding":{"x":{"datum":47.993,"type":"quantitative","scale":{"domain":[47,49.007]}},"y":{"datum":0.076,"type":"quantitative","scale":{"domain":[0,1]}}}},
{"data":{"values":[{}]},"mark":{"type":"text","text":"(a)","fontSize":20,"align":"left","baseline":"middle","color":"#000"},"encoding":{"x":{"datum":46.389,"type":"quantitative","scale":{"domain":[47,49.007]}},"y":{"datum":1,"type":"quantitative","scale":{"domain":[0,1]}}}},
{"data":{"values":[{}]},"mark":{"type":"text","text":"//","fontSize":20,"align":"center","baseline":"middle","color":"#222"},"encoding":{"x":{"datum":49.035,"type":"quantitative","scale":{"domain":[47,49.007]}},"y":{"datum":1,"type":"quantitative","scale":{"domain":[0,1]}}}},
{"data":{"values":[{}]},"mark":{"type":"text","text":"//","fontSize":20,"align":"center","baseline":"middle","color":"#222"},"encoding":{"x":{"datum":49.035,"type":"quantitative","scale":{"domain":[47,49.007]}},"y":{"datum":0,"type":"quantitative","scale":{"domain":[0,1]}}}}
]},
{"data":{"name":"lg"},"layer":[
{"mark":{"type":"point","filled":true,"size":50,"opacity":1,"strokeWidth":0},
"encoding":{"x":{"datum":47.167,"type":"quantitative","scale":{"domain":[47,49.007]}},
"y":{"field":"s","type":"quantitative","scale":{"domain":[-8.222,5.852],"reverse":true,"nice":false,"zero":false},"axis":null},
"color":{"field":"s","type":"nominal","scale":{"domain":[1,2,3,4,5],"range":["#000000","#ff0000","#00e000","#0000ff","#ff00ff"]},"legend":null},
"shape":{"field":"s","type":"nominal","scale":{"domain":[1,2,3,4,5],"range":["square","circle","triangle-up","M0,-1.15L1.15,0L0,1.15L-1.15,0Z","M0,-1.3L0.292,-0.402L1.236,-0.402L0.472,0.153L0.764,1.052L0,0.497L-0.764,1.052L-0.472,0.153L-1.236,-0.402L-0.292,-0.402Z"]},"legend":null}}},
{"mark":{"type":"text","align":"left","baseline":"middle","fontSize":20,"fontWeight":"bold","color":"#000"},
"encoding":{"x":{"datum":47.354,"type":"quantitative","scale":{"domain":[47,49.007]}},
"y":{"field":"s","type":"quantitative","scale":{"domain":[-8.222,5.852],"reverse":true,"nice":false,"zero":false},"axis":null},
"text":{"field":"k"}}}
]}
]},
{"width":219,"height":380,"view":{"stroke":null},
"layer":[
{"data":{"name":"fR"},"mark":{"type":"line","clip":true,"strokeDash":[1.2,2.6],"strokeWidth":1.4},
"encoding":{
"x":{"field":"t","type":"quantitative","scale":{"domain":[53.92,59.776],"nice":false,"zero":false},
"axis":{"values":[54,55,56,57,58,59],"labelExpr":"datum.value%2==0 ? format(datum.value,'d') : ''","title":null,"labelPadding":7,
"encoding":{"ticks":{"update":{"y2":{"signal":"datum.value%2==0 ? 8 : 4"}}}}}},
"y":{"field":"r","type":"quantitative","scale":{"domain":[0,1],"nice":false,"zero":false},"axis":{"orient":"right","labels":false,"ticks":false,"title":null,"domain":true}},
"stroke":{"field":"g","type":"nominal","scale":{"domain":[1,2,3,4,5],"range":["#000000","#ff0000","#00e000","#0000ff","#ff00ff"]},"legend":null}}},
{"data":{"name":"aR"},"mark":{"type":"point","clip":true,"filled":true,"size":50,"opacity":1,"strokeWidth":0},
"encoding":{
"x":{"field":"t","type":"quantitative","scale":{"domain":[53.92,59.776]}},
"y":{"field":"r","type":"quantitative","scale":{"domain":[0,1]}},
"color":{"field":"s","type":"nominal","scale":{"domain":[1,2,3,4,5],"range":["#000000","#ff0000","#00e000","#0000ff","#ff00ff"]},"legend":null},
"shape":{"field":"s","type":"nominal","scale":{"domain":[1,2,3,4,5],"range":["square","circle","triangle-up","M0,-1.15L1.15,0L0,1.15L-1.15,0Z","M0,-1.3L0.292,-0.402L1.236,-0.402L0.472,0.153L0.764,1.052L0,0.497L-0.764,1.052L-0.472,0.153L-1.236,-0.402L-0.292,-0.402Z"]},"legend":null}}},
{"data":{"values":[{}]},"mark":{"type":"rule","color":"#222","strokeWidth":1},"encoding":{"y":{"datum":1,"type":"quantitative","scale":{"domain":[0,1]}}}},
{"data":{"values":[{}]},"mark":{"type":"rule","color":"#000","strokeWidth":1},"encoding":{"x":{"datum":58.71,"type":"quantitative","scale":{"domain":[53.92,59.776]}},"y":{"datum":0.279,"type":"quantitative","scale":{"domain":[0,1]}},"y2":{"datum":0.179}}},
{"data":{"values":[{}]},"mark":{"type":"point","filled":false,"color":"#000","strokeWidth":1,"size":144,"shape":"M-1,-1.3L0,0L1,-1.3"},"encoding":{"x":{"datum":58.71,"type":"quantitative","scale":{"domain":[53.92,59.776]}},"y":{"datum":0.179,"type":"quantitative","scale":{"domain":[0,1]}}}},
{"data":{"values":[{}]},"mark":{"type":"text","text":"SP","fontSize":28,"align":"center","baseline":"middle","color":"#000"},"encoding":{"x":{"datum":58.81,"type":"quantitative","scale":{"domain":[53.92,59.776]}},"y":{"datum":0.35,"type":"quantitative","scale":{"domain":[0,1]}}}}
]}
],"spacing":8,"bounds":"flush",
"resolve":{"scale":{"color":"independent","shape":"independent","stroke":"independent"}}},
{"hconcat":[
{"width":4,"height":4,"data":{"values":[{}]},"mark":{"type":"rule","opacity":0},"encoding":{}},
{"hconcat":[
{"width":228,"height":377,"view":{"stroke":"#222","strokeWidth":1},
"layer":[
{"data":{"name":"spr"},"mark":{"type":"line","color":"#000","strokeWidth":1,"clip":true},
"encoding":{
"x":{"field":"t","type":"quantitative","scale":{"domain":[0,1500],"nice":false,"zero":false},
"axis":{"values":[0,250,500,750,1000,1250,1500],"labelExpr":"datum.value%500==0 ? format(datum.value,'d') : ''","title":"Time t [sec]","titleX":109,"titleY":59,"titleBaseline":"alphabetic","titleAlign":"center","labelPadding":5,
"encoding":{"ticks":{"update":{"y2":{"signal":"datum.value%500==0 ? 8 : 4"}}}}}},
"y":{"field":"r","type":"quantitative","scale":{"domain":[0.0595,0.0625],"nice":false,"zero":false},
"axis":{"values":[0.0595,0.05975,0.06,0.06025,0.0605,0.06075,0.061,0.06125,0.0615,0.06175,0.062,0.06225,0.0625],"labelExpr":"round(datum.value*4000)%2==0 ? format(datum.value,'.4f') : ''","title":"Reflectivity R","titleX":-89,"titleY":174,"titleAngle":-90,"titleBaseline":"middle","titleAlign":"center","labelPadding":1,
"encoding":{"ticks":{"update":{"x2":{"signal":"round(datum.value*4000)%2==0 ? -8 : -4"}}}}}}}},
{"data":{"name":"sprArr"},"mark":{"type":"rule","color":"#000","strokeWidth":1},
"encoding":{"x":{"field":"t","type":"quantitative","scale":{"domain":[0,1500]}},"y":{"field":"a","type":"quantitative","scale":{"domain":[0.0595,0.0625]}},"y2":{"field":"b"}}},
{"data":{"name":"sprArr"},"mark":{"type":"point","filled":true,"color":"#000","size":25,"opacity":1,"strokeWidth":0,"shape":"M0,0L-0.9,-2.4L0.9,-2.4Z"},
"encoding":{"x":{"field":"t","type":"quantitative","scale":{"domain":[0,1500]}},"y":{"field":"b","type":"quantitative","scale":{"domain":[0.0595,0.0625]}}}},
{"data":{"name":"sprLab"},"mark":{"type":"text","fontSize":20,"align":"center","baseline":"middle","color":"#000"},
"encoding":{"x":{"field":"t","type":"quantitative","scale":{"domain":[0,1500]}},"y":{"field":"r","type":"quantitative","scale":{"domain":[0.0595,0.0625]}},"text":{"field":"l"}}},
{"data":{"values":[{}]},"mark":{"type":"text","text":"SPR","fontSize":20,"fontWeight":"bold","align":"left","baseline":"middle","color":"#000"},"encoding":{"x":{"datum":66,"type":"quantitative","scale":{"domain":[0,1500]}},"y":{"datum":0.06234,"type":"quantitative","scale":{"domain":[0.0595,0.0625]}}}},
{"data":{"values":[{}]},"mark":{"type":"text","text":"(b)","fontSize":20,"align":"left","baseline":"middle","color":"#000"},"encoding":{"x":{"datum":-658,"type":"quantitative","scale":{"domain":[0,1500]}},"y":{"datum":0.0625,"type":"quantitative","scale":{"domain":[0.0595,0.0625]}}}}
]},
{"width":230,"height":376,"view":{"stroke":"#222","strokeWidth":1},
"layer":[
{"data":{"name":"hows"},"mark":{"type":"line","color":"#000","strokeWidth":1.1,"clip":true},
"encoding":{
"x":{"field":"t","type":"quantitative","scale":{"domain":[0,2000],"nice":false,"zero":false},
"axis":{"values":[0,250,500,750,1000,1250,1500,1750,2000],"labelExpr":"datum.value%500==0 ? format(datum.value,'d') : ''","title":"Time t [sec]","titleX":129,"titleY":59,"titleBaseline":"alphabetic","titleAlign":"center","labelPadding":5,
"encoding":{"ticks":{"update":{"y2":{"signal":"datum.value%500==0 ? 8 : 4"}}}}}},
"y":{"field":"r","type":"quantitative","scale":{"domain":[0.13,0.17],"nice":false,"zero":false},
"axis":{"values":[0.13,0.135,0.14,0.145,0.15,0.155,0.16,0.165,0.17],"labelExpr":"round(datum.value*200)%2==0 ? format(datum.value,'.2f') : ''","title":null,"labelPadding":4,
"encoding":{"ticks":{"update":{"x2":{"signal":"round(datum.value*200)%2==0 ? -8 : -4"}}}}}}}},
{"data":{"name":"howsArr"},"mark":{"type":"rule","color":"#000","strokeWidth":1},
"encoding":{"x":{"field":"t","type":"quantitative","scale":{"domain":[0,2000]}},"y":{"field":"a","type":"quantitative","scale":{"domain":[0.13,0.17]}},"y2":{"field":"b"}}},
{"data":{"name":"howsArr"},"transform":[{"filter":"datum.d=='d'"}],"mark":{"type":"point","filled":true,"color":"#000","size":25,"opacity":1,"strokeWidth":0,"shape":"M0,0L-0.9,-2.4L0.9,-2.4Z"},
"encoding":{"x":{"field":"t","type":"quantitative","scale":{"domain":[0,2000]}},"y":{"field":"b","type":"quantitative","scale":{"domain":[0.13,0.17]}}}},
{"data":{"name":"howsArr"},"transform":[{"filter":"datum.d=='u'"}],"mark":{"type":"point","filled":true,"color":"#000","size":25,"opacity":1,"strokeWidth":0,"shape":"M0,0L-0.9,2.4L0.9,2.4Z"},
"encoding":{"x":{"field":"t","type":"quantitative","scale":{"domain":[0,2000]}},"y":{"field":"b","type":"quantitative","scale":{"domain":[0.13,0.17]}}}},
{"data":{"name":"howsLab"},"mark":{"type":"text","fontSize":20,"align":"center","baseline":"middle","color":"#000"},
"encoding":{"x":{"field":"t","type":"quantitative","scale":{"domain":[0,2000]}},"y":{"field":"r","type":"quantitative","scale":{"domain":[0.13,0.17]}},"text":{"field":"l"}}},
{"data":{"values":[{}]},"mark":{"type":"text","text":"HOWS","fontSize":20,"fontWeight":"bold","align":"left","baseline":"middle","color":"#000"},"encoding":{"x":{"datum":87,"type":"quantitative","scale":{"domain":[0,2000]}},"y":{"datum":0.1683,"type":"quantitative","scale":{"domain":[0.13,0.17]}}}}
]}
],"spacing":62,"bounds":"flush"}
],"spacing":8,"bounds":"flush"}
]
}
